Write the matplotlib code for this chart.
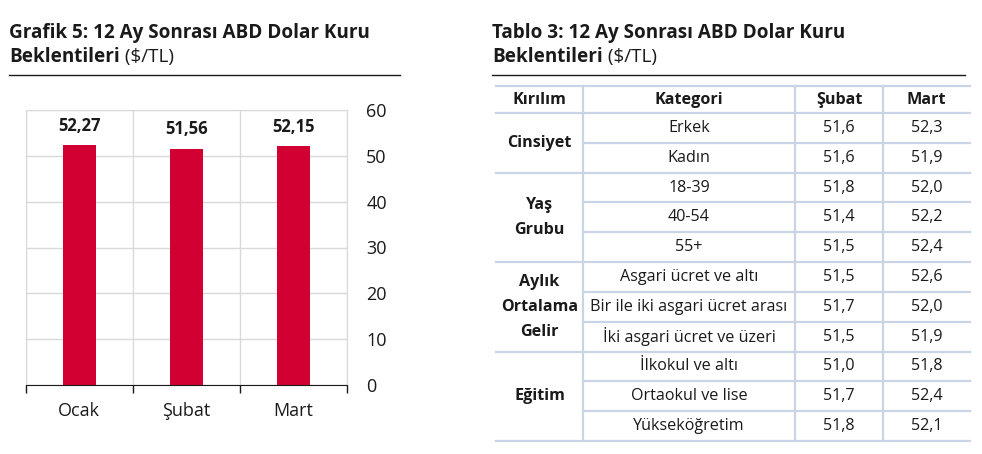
import matplotlib
matplotlib.use("Agg")
import matplotlib.pyplot as plt
from matplotlib.lines import Line2D

plt.rcParams["font.family"] = ["Open Sans", "DejaVu Sans"]

# -- data ---------------------------------------------------------------
MONTHS = ["Ocak", "Şubat", "Mart"]
EXPECTATIONS = [52.27, 51.56, 52.15]
Y_TICKS = [0, 10, 20, 30, 40, 50, 60]

GROUP_NAMES = ["Cinsiyet", "Yaş\nGrubu", "Aylık\nOrtalama\nGelir", "Eğitim"]
GROUP_SIZES = [2, 3, 3, 3]
CATEGORIES = ["Erkek", "Kadın", "18-39", "40-54", "55+",
              "Asgari ücret ve altı", "Bir ile iki asgari ücret arası",
              "İki asgari ücret ve üzeri", "İlkokul ve altı",
              "Ortaokul ve lise", "Yükseköğretim"]
SUBAT = [51.6, 51.6, 51.8, 51.4, 51.5, 51.5, 51.7, 51.5, 51.0, 51.7, 51.8]
MART = [52.3, 51.9, 52.0, 52.2, 52.4, 52.6, 52.0, 51.9, 51.8, 52.4, 52.1]
HEADERS = ["Kırılım", "Kategori", "Şubat", "Mart"]

BAR_RED = "#D20032"
GRID = "#D9D9D9"
TABLE_LINE = "#C9D5E6"
TXT = "#1A1A1A"

W, H = 982, 454
fig = plt.figure(figsize=(W / 100, H / 100), dpi=100)


def px(x, y):
    """pixel (from top-left) -> figure fraction"""
    return x / W, 1 - y / H


def fmt(v, nd):
    return f"{v:.{nd}f}".replace(".", ",")


def title(x, line1, line2_bold, line2_rest):
    fig.text(*px(x, 33), line1, fontsize=13.6, fontweight="bold", color=TXT, va="center")
    t = fig.text(*px(x, 57), line2_bold, fontsize=13.6, fontweight="bold", color=TXT, va="center")
    r = fig.canvas.get_renderer()
    bb = t.get_window_extent(renderer=r)
    fig.text(bb.x1 / W, 1 - 57 / H, " " + line2_rest, fontsize=13.6, color=TXT, va="center")


# -- left: bar chart ----------------------------------------------------
title(9, "Grafik 5: 12 Ay Sonrası ABD Dolar Kuru", "Beklentileri", "($/TL)")
fig.add_artist(Line2D([9 / W, 400 / W], [1 - 75 / H] * 2, color=TXT, lw=1))

ax_l, ax_r, ax_t, ax_b = 25.7, 346.7, 110, 385
ax = fig.add_axes([ax_l / W, 1 - ax_b / H, (ax_r - ax_l) / W, (ax_b - ax_t) / H])
x = range(len(MONTHS))
ax.bar(x, EXPECTATIONS, width=0.31, color=BAR_RED, zorder=3)
for i, v in enumerate(EXPECTATIONS):
    ax.text(i, v + 4.2, fmt(v, 2), ha="center", va="center", fontsize=12,
            fontweight="bold", color=TXT)

ax.set_xlim(-0.5, 2.5)
ax.set_ylim(0, 60)
ax.set_yticks(Y_TICKS)
ax.set_xticks(list(x))
ax.set_xticklabels(MONTHS)
ax.set_xticks([-0.5, 0.5, 1.5, 2.5], minor=True)
ax.yaxis.tick_right()
ax.tick_params(axis="y", length=0, pad=14, labelsize=13, labelcolor=TXT)
ax.tick_params(axis="x", which="major", length=0, pad=12, labelsize=13, labelcolor=TXT)
ax.tick_params(axis="x", which="minor", length=6, width=1, color=TXT, direction="out")
ax.grid(axis="y", color=GRID, lw=1, zorder=0)
ax.grid(axis="x", which="minor", color=GRID, lw=1, zorder=0)
for s in ["left", "top", "right"]:
    ax.spines[s].set_color(GRID)
ax.spines["bottom"].set_color(TXT)
ax.spines["bottom"].set_zorder(4)

# -- right: table -------------------------------------------------------
title(492, "Tablo 3: 12 Ay Sonrası ABD Dolar Kuru", "Beklentileri", "($/TL)")
fig.add_artist(Line2D([492 / W, 965 / W], [1 - 75 / H] * 2, color=TXT, lw=1))

tab = fig.add_axes([0, 0, 1, 1])
tab.set_xlim(0, W)
tab.set_ylim(H, 0)
tab.axis("off")

col_x = [496, 583, 795, 883, 970]
head_top, head_bot = 86, 113
row_h = (441 - head_bot) / len(CATEGORIES)
row_y = [head_bot + i * row_h for i in range(len(CATEGORIES) + 1)]
lw = 1.6
fs = 11.6

# header
for j, h in enumerate(HEADERS):
    tab.text((col_x[j] + col_x[j + 1]) / 2, (head_top + head_bot) / 2, h, ha="center",
             va="center", fontsize=fs, fontweight="bold", color=TXT)
tab.plot([col_x[0], col_x[-1]], [head_top] * 2, color=TABLE_LINE, lw=lw)

# body rows
for i, (cat, s, m) in enumerate(zip(CATEGORIES, SUBAT, MART)):
    yc = (row_y[i] + row_y[i + 1]) / 2
    for j, t in zip([1, 2, 3], [cat, fmt(s, 1), fmt(m, 1)]):
        tab.text((col_x[j] + col_x[j + 1]) / 2, yc, t, ha="center", va="center",
                 fontsize=fs, color=TXT)

# horizontal lines: full width at group borders, partial inside groups
bounds = [0]
for n in GROUP_SIZES:
    bounds.append(bounds[-1] + n)
for i in range(len(CATEGORIES) + 1):
    x0 = col_x[0] if i in bounds else col_x[1]
    tab.plot([x0, col_x[-1]], [row_y[i]] * 2, color=TABLE_LINE, lw=lw)

# group labels
for g, name in enumerate(GROUP_NAMES):
    yc = (row_y[bounds[g]] + row_y[bounds[g + 1]]) / 2
    tab.text((col_x[0] + col_x[1]) / 2, yc, name, ha="center", va="center",
             fontsize=fs, fontweight="bold", color=TXT, linespacing=1.75)

# vertical lines
for xv in col_x[1:-1]:
    tab.plot([xv, xv], [head_top, row_y[-1]], color=TABLE_LINE, lw=lw)

fig.savefig("out.png", dpi=100)
